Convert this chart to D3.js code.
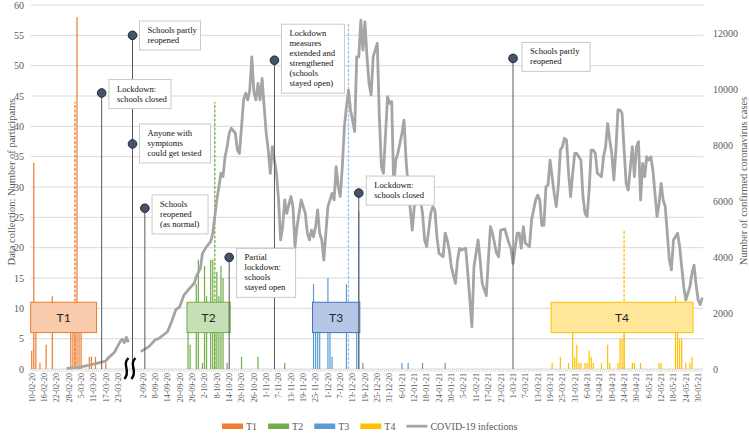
<!DOCTYPE html>
<html><head><meta charset="utf-8">
<script src="https://cdn.jsdelivr.net/npm/d3@7"></script>
<style>body{margin:0;background:#fff}svg{display:block}</style>
</head><body>
<svg id="chart" width="749" height="435"></svg>
<script>
// ================= DATA =================
// category axis: two observed periods with an axis break between them
const seg1Range = ["2020-02-10", "2020-03-28"];
const breakSlots = ["break-1", "break-2", "break-3", "break-4", "break-5"];
const seg2Range = ["2020-09-01", "2021-06-01"];

const xTickLabels = ["10-02-20","16-02-20","22-02-20","28-02-20","5-03-20","11-03-20","17-03-20","23-03-20",
  "2-09-20","8-09-20","14-09-20","20-09-20","26-09-20","2-10-20","8-10-20","14-10-20","20-10-20","26-10-20",
  "1-11-20","7-11-20","13-11-20","19-11-20","25-11-20","1-12-20","7-12-20","13-12-20","19-12-20","25-12-20",
  "31-12-20","6-01-21","12-01-21","18-01-21","24-01-21","30-01-21","5-02-21","11-02-21","17-02-21","23-02-21",
  "1-03-21","7-03-21","13-03-21","19-03-21","25-03-21","31-03-21","6-04-21","12-04-21","18-04-21","24-04-21",
  "30-04-21","6-05-21","12-05-21","18-05-21","24-05-21","30-05-21"];
const leftTicks = [0,5,10,15,20,25,30,35,40,45,50,55,60];
const rightTicks = [0,2000,4000,6000,8000,10000,12000];

// participants per day, per measurement wave
const t1Dates = ["2020-02-10","2020-02-11","2020-02-12","2020-02-14","2020-02-17","2020-02-20","2020-02-29","2020-03-01","2020-03-02","2020-03-03","2020-03-04","2020-03-05","2020-03-09","2020-03-10","2020-03-12","2020-03-17"];
const t1Values = [3,34,8,1,4,12,7,9,7,58,10,8,2,2,2,1];
const t2Dates = ["2020-09-24","2020-09-25","2020-09-28","2020-09-29","2020-10-01","2020-10-02","2020-10-03","2020-10-05","2020-10-06","2020-10-07","2020-10-08","2020-10-09","2020-10-10","2020-10-11","2020-10-13","2020-10-20","2020-10-28","2020-11-10"];
const t2Values = [9,4,14,18,1,17,12,18,18,10,16,12,17,15,1,2,2,1];
const t3Dates = ["2020-11-24","2020-11-25","2020-11-26","2020-11-27","2020-12-01","2020-12-02","2020-12-03","2020-12-10","2020-12-15","2020-12-16","2020-12-18","2021-01-06","2021-01-09","2021-01-16","2021-01-27"];
const t3Values = [14,9,8,10,15,8,2,14,8,26,1,1,1,1,1];
const t4Dates = ["2021-03-20","2021-03-24","2021-03-28","2021-03-30","2021-03-31","2021-04-01","2021-04-02","2021-04-03","2021-04-05","2021-04-06","2021-04-07","2021-04-08","2021-04-09","2021-04-13","2021-04-16","2021-04-17","2021-04-21","2021-04-22","2021-04-23","2021-04-24","2021-04-28","2021-04-29","2021-05-02","2021-05-11","2021-05-12","2021-05-19","2021-05-20","2021-05-21","2021-05-22","2021-05-24","2021-05-26","2021-05-27"];
const t4Values = [1,2,1,7,2,4,1,1,1,1,3,2,1,1,4,1,1,5,5,6,1,1,1,1,1,12,8,5,5,1,1,2];

// wave periods (boxes) and dashed peak markers
const waveNames = ["T1","T2","T3","T4"];
const waveStart = ["2020-02-10","2020-09-24","2020-11-24","2021-03-20"];
const waveEnd = ["2020-03-12","2020-10-14","2020-12-16","2021-05-27"];
const waveBoxRange = [6, 11];
const waveMarkDates = ["2020-03-02","2020-10-07","2020-12-11","2021-04-24"];
const waveMarkValues = [44, 44, 57, 23];

// confirmed COVID-19 cases per day (right axis)
const covid1Dates = ["2020-02-27","2020-03-04","2020-03-09","2020-03-14","2020-03-17","2020-03-18","2020-03-21","2020-03-22","2020-03-24","2020-03-25","2020-03-26","2020-03-27","2020-03-28"];
const covid1Values = [20,60,140,230,280,380,580,700,980,1060,940,1130,950];
const covid2Dates = ["2020-09-01","2020-09-05","2020-09-08","2020-09-10","2020-09-14","2020-09-16","2020-09-18","2020-09-20","2020-09-22","2020-09-24","2020-09-27","2020-09-28","2020-09-30",
"2020-10-01","2020-10-03","2020-10-05","2020-10-06","2020-10-07","2020-10-08","2020-10-09","2020-10-10","2020-10-11","2020-10-12","2020-10-13","2020-10-14","2020-10-15","2020-10-17","2020-10-18","2020-10-19","2020-10-20","2020-10-21","2020-10-22","2020-10-23","2020-10-24","2020-10-25","2020-10-26","2020-10-27","2020-10-28","2020-10-29","2020-10-30","2020-10-31",
"2020-11-01","2020-11-02","2020-11-03","2020-11-04","2020-11-05","2020-11-06","2020-11-07","2020-11-08","2020-11-09","2020-11-10","2020-11-11","2020-11-13","2020-11-14","2020-11-15","2020-11-16","2020-11-17","2020-11-18","2020-11-20","2020-11-21","2020-11-22","2020-11-23","2020-11-24","2020-11-25","2020-11-26","2020-11-27","2020-11-28","2020-11-29","2020-11-30",
"2020-12-01","2020-12-03","2020-12-04","2020-12-05","2020-12-06","2020-12-07","2020-12-08","2020-12-09","2020-12-10","2020-12-11","2020-12-12","2020-12-14","2020-12-15","2020-12-16","2020-12-17","2020-12-18","2020-12-19","2020-12-20","2020-12-21","2020-12-22","2020-12-23","2020-12-25","2020-12-26","2020-12-27","2020-12-28","2020-12-30","2020-12-31",
"2021-01-01","2021-01-02","2021-01-03","2021-01-04","2021-01-06","2021-01-07","2021-01-08","2021-01-09","2021-01-11","2021-01-12","2021-01-14","2021-01-15","2021-01-16","2021-01-17","2021-01-18","2021-01-20","2021-01-21","2021-01-22","2021-01-23","2021-01-24","2021-01-26","2021-01-27","2021-01-28","2021-01-29","2021-01-30",
"2021-02-01","2021-02-02","2021-02-03","2021-02-04","2021-02-06","2021-02-07","2021-02-09","2021-02-10","2021-02-11","2021-02-12","2021-02-13","2021-02-14","2021-02-16","2021-02-17","2021-02-18","2021-02-19","2021-02-21","2021-02-22","2021-02-23","2021-02-25","2021-02-27","2021-02-28",
"2021-03-01","2021-03-03","2021-03-04","2021-03-05","2021-03-06","2021-03-07","2021-03-09","2021-03-10","2021-03-12","2021-03-13","2021-03-14","2021-03-15","2021-03-16","2021-03-17","2021-03-18","2021-03-19","2021-03-21","2021-03-22","2021-03-23","2021-03-24","2021-03-25","2021-03-26","2021-03-27","2021-03-28","2021-03-29","2021-03-30","2021-03-31",
"2021-04-01","2021-04-03","2021-04-04","2021-04-05","2021-04-06","2021-04-07","2021-04-08","2021-04-09","2021-04-10","2021-04-11","2021-04-13","2021-04-14","2021-04-15","2021-04-16","2021-04-17","2021-04-18","2021-04-19","2021-04-20","2021-04-21","2021-04-22","2021-04-23","2021-04-24","2021-04-25","2021-04-26","2021-04-28","2021-04-29","2021-04-30",
"2021-05-01","2021-05-02","2021-05-03","2021-05-04","2021-05-05","2021-05-06","2021-05-07","2021-05-08","2021-05-09","2021-05-10","2021-05-11","2021-05-12","2021-05-13","2021-05-14","2021-05-15","2021-05-16","2021-05-17","2021-05-18","2021-05-20","2021-05-21","2021-05-22","2021-05-23","2021-05-24","2021-05-26","2021-05-27","2021-05-28","2021-05-29","2021-05-30","2021-05-31","2021-06-01"];
const covid2Values = [620,800,1040,1100,1330,1690,2110,2230,2640,2820,3060,3300,3600,
4130,4370,4550,4850,5440,6040,6510,6990,6870,7580,7940,8420,8600,8420,7820,7700,8650,9610,9850,9610,9960,11150,9900,9610,10200,9610,10380,9370,
8420,7820,6990,7940,7460,6990,6040,4610,5080,6040,5560,6160,5800,4370,5080,5560,6040,5560,4850,4610,4960,4720,5080,5680,4850,4610,3890,4850,
5800,6270,6040,7230,6510,6160,7230,8650,9370,9960,9250,8480,11150,11150,12460,11390,12400,11150,10200,9790,11150,11630,9010,7230,6990,9730,9490,
9550,6510,7460,7700,8420,8890,7460,6510,4960,5800,6270,6040,5560,4610,4370,5560,5800,5680,4720,4130,4010,4850,4610,4250,3650,
3060,3890,4310,4250,4310,3420,1510,3650,4130,4610,3900,3060,2620,3900,5080,4850,4130,4010,4960,5000,4490,4300,
3770,4850,4850,4310,5080,4490,4370,5320,6040,6210,6040,5130,5130,6510,6570,7460,6270,5800,6510,7820,7940,8240,8180,6990,6160,6990,7700,
7700,7460,6160,5560,5440,6390,7820,7820,7700,6990,6870,7580,7940,8770,8180,7700,6750,7820,9250,9250,9130,7820,6630,6390,7940,6870,7940,
8120,6040,7340,6870,7580,7460,7580,7110,6270,5440,5920,6630,6040,5800,4850,3890,3540,4610,4850,4370,3650,2940,2460,2940,3420,3710,3000,2460,2300,2550];

// policy events (category, marker level on left axis, text)
const eventCats = ["2020-03-15","break-2","break-2","2020-09-03","2020-10-14","2020-11-05","2020-12-16","2021-03-01"];
const eventLevels = [45.5, 55, 37.1, 26.5, 18.4, 50.9, 29, 51.2];
const eventTexts = [["Lockdown:","schools closed"],["Schools partly","reopened"],["Anyone with","symptoms","could get tested"],
  ["Schools","reopened","(as normal)"],["Partial","lockdown:","schools","stayed open"],
  ["Lockdown","measures","extended and","strengthened","(schools","stayed open)"],["Lockdown:","schools closed"],["Schools partly","reopened"]];

const legendNames = ["T1","T2","T3","T4","COVID-19 infections"];

// ================= STYLE / LAYOUT =================
const waveBar = ["#ED7D31","#70AD47","#5B9BD5","#FFC000"];
const waveFill = ["#F8CBAD","#C5E0B4","#B4C7E7","#FFE699"];
const waveStroke = ["#ED7D31","#70AD47","#4472C4","#FFC000"];
const waveDash = ["#ED7D31","#70AD47","#9DC3E6","#FFC000"];
const calloutDx = [7.3,7,7,7.2,7.4,7,7.5,9];
const calloutDy = [-13.4,-14.3,-20,-13.3,-9,-36,-17,-16];
const calloutW = [62,61,71,56,59,63,68,68];
const serif = "'Liberation Serif','Times New Roman',serif";

const svg = d3.select("#chart");
const fmt = d3.timeFormat("%Y-%m-%d"), parse = d3.timeParse("%Y-%m-%d");
const parseTick = d3.timeParse("%d-%m-%y");
const dayRange = (a, b) => d3.timeDay.range(parse(a), d3.timeDay.offset(parse(b), 1)).map(fmt);
const categories = [...dayRange(...seg1Range), ...breakSlots, ...dayRange(...seg2Range)];

const x = d3.scaleBand().domain(categories).range([30.7, 703.3]);
const bw = x.bandwidth();
const cx = k => x(k) + bw / 2;
const yL = d3.scaleLinear().domain([0, 60]).range([369, 5]);
const yR = d3.scaleLinear().domain([0, 13000]).range([369, 5]);
const [X0, X1] = x.range();

// gridlines
svg.append("g").selectAll("line").data(leftTicks.filter(d => d > 0)).join("line")
  .attr("x1", X0).attr("x2", X1).attr("y1", d => yL(d)).attr("y2", d => yL(d))
  .attr("stroke", "#d9d9d9").attr("stroke-width", 1);

// x axis baseline + category ticks
svg.append("line").attr("x1", X0).attr("x2", X1).attr("y1", yL(0)).attr("y2", yL(0))
  .attr("stroke", "#d9d9d9").attr("stroke-width", 1);
svg.append("g").selectAll("line").data(categories).join("line")
  .attr("x1", d => x(d)).attr("x2", d => x(d)).attr("y1", yL(0)).attr("y2", yL(0) + 3)
  .attr("stroke", "#d9d9d9").attr("stroke-width", 0.8);

// axis tick labels
svg.append("g").selectAll("text").data(leftTicks).join("text")
  .attr("x", 24).attr("y", d => yL(d)).attr("dy", "0.35em").attr("text-anchor", "end")
  .attr("font-family", serif).attr("font-size", 10).attr("fill", "#595959").text(d => d);
svg.append("g").selectAll("text").data(rightTicks).join("text")
  .attr("x", 713).attr("y", d => yR(d)).attr("dy", "0.35em")
  .attr("font-family", serif).attr("font-size", 10).attr("fill", "#595959").text(d => d);
svg.append("g").selectAll("text").data(xTickLabels).join("text")
  .attr("transform", d => `translate(${cx(fmt(parseTick(d)))},373) rotate(-90)`)
  .attr("dy", "0.35em").attr("text-anchor", "end")
  .attr("font-family", serif).attr("font-size", 8).attr("fill", "#595959").text(d => d);

// axis titles
svg.append("text").attr("transform", "translate(11,182) rotate(-90)").attr("dy", "0.35em")
  .attr("text-anchor", "middle").attr("font-family", serif).attr("font-size", 10.5).attr("fill", "#595959")
  .text("Data collection: Number of participatns");
svg.append("text").attr("transform", "translate(743,181) rotate(-90)").attr("dy", "0.35em")
  .attr("text-anchor", "middle").attr("font-family", serif).attr("font-size", 10.5).attr("fill", "#595959")
  .text("Number of confirmed coronavirus cases");

// bars
const waves = [[t1Dates, t1Values], [t2Dates, t2Values], [t3Dates, t3Values], [t4Dates, t4Values]];
waves.forEach(([ds, vs], i) => {
  svg.append("g").selectAll("rect").data(ds.map((d, j) => ({d, v: vs[j]}))).join("rect")
    .attr("x", d => cx(d.d) - 0.6).attr("width", 1.2)
    .attr("y", d => yL(d.v)).attr("height", d => yL(0) - yL(d.v))
    .attr("fill", waveBar[i]);
});
// dashed markers
svg.append("g").selectAll("line").data(waveMarkDates).join("line")
  .attr("x1", d => cx(d)).attr("x2", d => cx(d)).attr("y1", yL(0)).attr("y2", (d, i) => yL(waveMarkValues[i]))
  .attr("stroke", (d, i) => waveDash[i]).attr("stroke-width", 1.3).attr("stroke-dasharray", "3,1.5");

// covid line
const line = d3.line().x(d => cx(d.d)).y(d => yR(d.v));
[[covid1Dates, covid1Values], [covid2Dates, covid2Values]].forEach(([ds, vs]) => {
  svg.append("path").datum(ds.map((d, j) => ({d, v: vs[j]}))).attr("d", line)
    .attr("fill", "none").attr("stroke", "#A5A5A5").attr("stroke-width", 2.8).attr("stroke-linejoin", "round");
});

// wave boxes
waveNames.forEach((n, i) => {
  const x0 = x(waveStart[i]), x1 = x(waveEnd[i]) + bw;
  const ya = yL(waveBoxRange[1]), yb = yL(waveBoxRange[0]);
  svg.append("rect").attr("x", x0).attr("y", ya).attr("width", x1 - x0).attr("height", yb - ya)
    .attr("fill", waveFill[i]).attr("stroke", waveStroke[i]).attr("stroke-width", 1);
  svg.append("text").attr("x", (x0 + x1) / 2).attr("y", (ya + yb) / 2).attr("dy", "0.35em")
    .attr("text-anchor", "middle").attr("font-family", "Lato, 'Open Sans', sans-serif").attr("font-size", 12)
    .attr("fill", "#262626").text(n);
});

// events
eventCats.forEach((c, i) => {
  svg.append("line").attr("x1", cx(c)).attr("x2", cx(c)).attr("y1", yL(eventLevels[i])).attr("y2", yL(0))
    .attr("stroke", "#595959").attr("stroke-width", 1);
});
eventCats.forEach((c, i) => {
  const px = cx(c), py = yL(eventLevels[i]);
  const lines = eventTexts[i];
  const bx = px + calloutDx[i], by = py + calloutDy[i], bh = lines.length * 10 + 9;
  svg.append("rect").attr("x", bx).attr("y", by).attr("width", calloutW[i]).attr("height", bh)
    .attr("fill", "#fff").attr("stroke", "#c9c9c9").attr("stroke-width", 1);
  const t = svg.append("text").attr("font-family", serif).attr("font-size", 8.6).attr("fill", "#111");
  lines.forEach((l, j) => t.append("tspan").attr("x", bx + 8).attr("y", by + 12 + j * 10).text(l));
  svg.append("circle").attr("cx", px).attr("cy", py).attr("r", 4.3)
    .attr("fill", "#44546A").attr("stroke", "#1f2733").attr("stroke-width", 1);
});

// axis break squiggle
const sx = x("break-1") + 0.5, sy = 358;
[-3.5, 3.5].forEach(o => {
  svg.append("path").attr("d", `M${sx + o + 2},${sy} C${sx + o - 5},${sy + 7} ${sx + o + 5},${sy + 13} ${sx + o - 2},${sy + 21}`)
    .attr("fill", "none").attr("stroke", "#000").attr("stroke-width", 2.4);
});

// legend
const lg = svg.append("g");
let lx = 222;
legendNames.forEach((n, i) => {
  if (i < 4) lg.append("rect").attr("x", lx).attr("y", 423.5).attr("width", 21).attr("height", 5.5).attr("fill", waveBar[i]);
  else lg.append("line").attr("x1", lx).attr("x2", lx + 21).attr("y1", 426.2).attr("y2", 426.2).attr("stroke", "#A5A5A5").attr("stroke-width", 2.8);
  const t = lg.append("text").attr("x", lx + 24).attr("y", 426.2).attr("dy", "0.35em")
    .attr("font-family", serif).attr("font-size", 10).attr("fill", "#595959").text(n);
  lx += 24 + t.node().getComputedTextLength() + 11;
});
</script>
</body></html>
